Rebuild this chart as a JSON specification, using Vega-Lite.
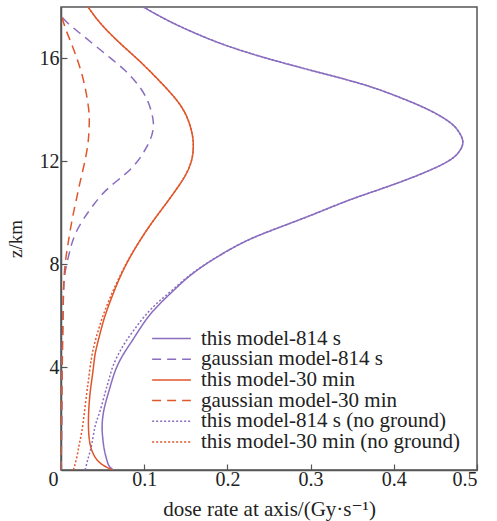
{
  "$schema": "https://vega.github.io/schema/vega-lite/v6.json",
  "width": 416,
  "height": 463,
  "autosize": {"type": "none"},
  "padding": {"left": 61, "top": 7, "right": 20, "bottom": 51},
  "background": "white",
  "config": {
    "font": "Liberation Serif, Times New Roman, DejaVu Serif, serif",
    "view": {"stroke": "#555555", "strokeWidth": 1.5},
    "axis": {"grid": false, "domainColor": "#555555", "domainWidth": 1.5, "tickColor": "#555555", "tickWidth": 1.2, "labelColor": "#222222", "titleColor": "#222222", "labelFont": "Liberation Serif, Times New Roman, DejaVu Serif, serif", "titleFont": "Liberation Serif, Times New Roman, DejaVu Serif, serif", "titleFontWeight": "normal"},
    "legend": {"labelFont": "Liberation Serif, Times New Roman, DejaVu Serif, serif"}
  },
  "datasets": {
    "curves": [
      {"s": "this model-814 s", "z": 0.0, "x": 0.063},
      {"s": "this model-814 s", "z": 0.15, "x": 0.058},
      {"s": "this model-814 s", "z": 0.4, "x": 0.055},
      {"s": "this model-814 s", "z": 0.8, "x": 0.052},
      {"s": "this model-814 s", "z": 1.3, "x": 0.05},
      {"s": "this model-814 s", "z": 1.8, "x": 0.0495},
      {"s": "this model-814 s", "z": 2.4, "x": 0.052},
      {"s": "this model-814 s", "z": 3.0, "x": 0.057},
      {"s": "this model-814 s", "z": 3.5, "x": 0.0615},
      {"s": "this model-814 s", "z": 4.0, "x": 0.067},
      {"s": "this model-814 s", "z": 4.5, "x": 0.075},
      {"s": "this model-814 s", "z": 5.0, "x": 0.085},
      {"s": "this model-814 s", "z": 5.5, "x": 0.095},
      {"s": "this model-814 s", "z": 6.0, "x": 0.106},
      {"s": "this model-814 s", "z": 6.5, "x": 0.12},
      {"s": "this model-814 s", "z": 7.0, "x": 0.136},
      {"s": "this model-814 s", "z": 7.5, "x": 0.153},
      {"s": "this model-814 s", "z": 8.0, "x": 0.174},
      {"s": "this model-814 s", "z": 8.5, "x": 0.199},
      {"s": "this model-814 s", "z": 9.0, "x": 0.229},
      {"s": "this model-814 s", "z": 9.5, "x": 0.268},
      {"s": "this model-814 s", "z": 10.0, "x": 0.308},
      {"s": "this model-814 s", "z": 10.5, "x": 0.347},
      {"s": "this model-814 s", "z": 11.0, "x": 0.391},
      {"s": "this model-814 s", "z": 11.5, "x": 0.432},
      {"s": "this model-814 s", "z": 12.0, "x": 0.465},
      {"s": "this model-814 s", "z": 12.4, "x": 0.479},
      {"s": "this model-814 s", "z": 12.75, "x": 0.483},
      {"s": "this model-814 s", "z": 13.1, "x": 0.479},
      {"s": "this model-814 s", "z": 13.5, "x": 0.468},
      {"s": "this model-814 s", "z": 14.0, "x": 0.442},
      {"s": "this model-814 s", "z": 14.5, "x": 0.406},
      {"s": "this model-814 s", "z": 15.0, "x": 0.362},
      {"s": "this model-814 s", "z": 15.5, "x": 0.305},
      {"s": "this model-814 s", "z": 16.0, "x": 0.248},
      {"s": "this model-814 s", "z": 16.5, "x": 0.199},
      {"s": "this model-814 s", "z": 17.0, "x": 0.16},
      {"s": "this model-814 s", "z": 17.5, "x": 0.127},
      {"s": "this model-814 s", "z": 18.0, "x": 0.099},

      {"s": "gaussian model-814 s", "z": 0.0, "x": 0.0},
      {"s": "gaussian model-814 s", "z": 2.0, "x": 0.001},
      {"s": "gaussian model-814 s", "z": 4.0, "x": 0.001},
      {"s": "gaussian model-814 s", "z": 5.5, "x": 0.002},
      {"s": "gaussian model-814 s", "z": 6.9, "x": 0.003},
      {"s": "gaussian model-814 s", "z": 7.7, "x": 0.005},
      {"s": "gaussian model-814 s", "z": 8.3, "x": 0.009},
      {"s": "gaussian model-814 s", "z": 8.8, "x": 0.013},
      {"s": "gaussian model-814 s", "z": 9.3, "x": 0.019},
      {"s": "gaussian model-814 s", "z": 9.8, "x": 0.028},
      {"s": "gaussian model-814 s", "z": 10.3, "x": 0.039},
      {"s": "gaussian model-814 s", "z": 10.9, "x": 0.055},
      {"s": "gaussian model-814 s", "z": 11.5, "x": 0.077},
      {"s": "gaussian model-814 s", "z": 12.0, "x": 0.092},
      {"s": "gaussian model-814 s", "z": 12.5, "x": 0.102},
      {"s": "gaussian model-814 s", "z": 13.0, "x": 0.109},
      {"s": "gaussian model-814 s", "z": 13.5, "x": 0.111},
      {"s": "gaussian model-814 s", "z": 14.0, "x": 0.108},
      {"s": "gaussian model-814 s", "z": 14.5, "x": 0.102},
      {"s": "gaussian model-814 s", "z": 15.0, "x": 0.092},
      {"s": "gaussian model-814 s", "z": 15.5, "x": 0.078},
      {"s": "gaussian model-814 s", "z": 16.0, "x": 0.06},
      {"s": "gaussian model-814 s", "z": 16.5, "x": 0.041},
      {"s": "gaussian model-814 s", "z": 17.0, "x": 0.022},
      {"s": "gaussian model-814 s", "z": 17.35, "x": 0.009},
      {"s": "gaussian model-814 s", "z": 17.65, "x": 0.0},

      {"s": "this model-30 min", "z": 0.0, "x": 0.062},
      {"s": "this model-30 min", "z": 0.2, "x": 0.05},
      {"s": "this model-30 min", "z": 0.5, "x": 0.041},
      {"s": "this model-30 min", "z": 1.0, "x": 0.035},
      {"s": "this model-30 min", "z": 1.7, "x": 0.033},
      {"s": "this model-30 min", "z": 2.4, "x": 0.0335},
      {"s": "this model-30 min", "z": 3.0, "x": 0.035},
      {"s": "this model-30 min", "z": 3.5, "x": 0.037},
      {"s": "this model-30 min", "z": 4.0, "x": 0.039},
      {"s": "this model-30 min", "z": 4.5, "x": 0.041},
      {"s": "this model-30 min", "z": 5.0, "x": 0.0445},
      {"s": "this model-30 min", "z": 5.5, "x": 0.0485},
      {"s": "this model-30 min", "z": 6.0, "x": 0.053},
      {"s": "this model-30 min", "z": 6.5, "x": 0.0585},
      {"s": "this model-30 min", "z": 7.0, "x": 0.0645},
      {"s": "this model-30 min", "z": 7.5, "x": 0.071},
      {"s": "this model-30 min", "z": 8.0, "x": 0.0785},
      {"s": "this model-30 min", "z": 8.5, "x": 0.087},
      {"s": "this model-30 min", "z": 9.0, "x": 0.0965},
      {"s": "this model-30 min", "z": 9.5, "x": 0.1068},
      {"s": "this model-30 min", "z": 10.0, "x": 0.118},
      {"s": "this model-30 min", "z": 10.5, "x": 0.1295},
      {"s": "this model-30 min", "z": 11.0, "x": 0.1405},
      {"s": "this model-30 min", "z": 11.4, "x": 0.1485},
      {"s": "this model-30 min", "z": 11.8, "x": 0.1545},
      {"s": "this model-30 min", "z": 12.2, "x": 0.158},
      {"s": "this model-30 min", "z": 12.6, "x": 0.159},
      {"s": "this model-30 min", "z": 13.0, "x": 0.158},
      {"s": "this model-30 min", "z": 13.5, "x": 0.154},
      {"s": "this model-30 min", "z": 14.0, "x": 0.147},
      {"s": "this model-30 min", "z": 14.5, "x": 0.136},
      {"s": "this model-30 min", "z": 15.0, "x": 0.122},
      {"s": "this model-30 min", "z": 15.5, "x": 0.107},
      {"s": "this model-30 min", "z": 16.0, "x": 0.091},
      {"s": "this model-30 min", "z": 16.5, "x": 0.074},
      {"s": "this model-30 min", "z": 17.0, "x": 0.058},
      {"s": "this model-30 min", "z": 17.5, "x": 0.044},
      {"s": "this model-30 min", "z": 18.0, "x": 0.0325},

      {"s": "gaussian model-30 min", "z": 0.0, "x": 0.0},
      {"s": "gaussian model-30 min", "z": 3.0, "x": 0.001},
      {"s": "gaussian model-30 min", "z": 5.0, "x": 0.002},
      {"s": "gaussian model-30 min", "z": 6.9, "x": 0.003},
      {"s": "gaussian model-30 min", "z": 8.0, "x": 0.005},
      {"s": "gaussian model-30 min", "z": 8.7, "x": 0.008},
      {"s": "gaussian model-30 min", "z": 9.3, "x": 0.011},
      {"s": "gaussian model-30 min", "z": 10.0, "x": 0.015},
      {"s": "gaussian model-30 min", "z": 10.6, "x": 0.019},
      {"s": "gaussian model-30 min", "z": 11.2, "x": 0.023},
      {"s": "gaussian model-30 min", "z": 11.9, "x": 0.028},
      {"s": "gaussian model-30 min", "z": 12.6, "x": 0.032},
      {"s": "gaussian model-30 min", "z": 13.1, "x": 0.0335},
      {"s": "gaussian model-30 min", "z": 13.6, "x": 0.034},
      {"s": "gaussian model-30 min", "z": 14.1, "x": 0.033},
      {"s": "gaussian model-30 min", "z": 14.7, "x": 0.03},
      {"s": "gaussian model-30 min", "z": 15.4, "x": 0.025},
      {"s": "gaussian model-30 min", "z": 16.1, "x": 0.018},
      {"s": "gaussian model-30 min", "z": 16.7, "x": 0.011},
      {"s": "gaussian model-30 min", "z": 17.2, "x": 0.005},
      {"s": "gaussian model-30 min", "z": 17.75, "x": 0.0},

      {"s": "this model-814 s (no ground)", "z": 0.0, "x": 0.029},
      {"s": "this model-814 s (no ground)", "z": 0.5, "x": 0.033},
      {"s": "this model-814 s (no ground)", "z": 1.0, "x": 0.037},
      {"s": "this model-814 s (no ground)", "z": 1.7, "x": 0.041},
      {"s": "this model-814 s (no ground)", "z": 2.3, "x": 0.047},
      {"s": "this model-814 s (no ground)", "z": 3.0, "x": 0.053},
      {"s": "this model-814 s (no ground)", "z": 3.5, "x": 0.0575},
      {"s": "this model-814 s (no ground)", "z": 4.0, "x": 0.062},
      {"s": "this model-814 s (no ground)", "z": 4.5, "x": 0.069},
      {"s": "this model-814 s (no ground)", "z": 5.0, "x": 0.078},
      {"s": "this model-814 s (no ground)", "z": 5.5, "x": 0.089},
      {"s": "this model-814 s (no ground)", "z": 6.0, "x": 0.101},
      {"s": "this model-814 s (no ground)", "z": 6.5, "x": 0.116},
      {"s": "this model-814 s (no ground)", "z": 7.0, "x": 0.134},
      {"s": "this model-814 s (no ground)", "z": 7.5, "x": 0.152},
      {"s": "this model-814 s (no ground)", "z": 8.0, "x": 0.1735},
      {"s": "this model-814 s (no ground)", "z": 8.5, "x": 0.199},
      {"s": "this model-814 s (no ground)", "z": 9.0, "x": 0.229},
      {"s": "this model-814 s (no ground)", "z": 9.5, "x": 0.268},
      {"s": "this model-814 s (no ground)", "z": 10.0, "x": 0.308},
      {"s": "this model-814 s (no ground)", "z": 10.5, "x": 0.347},
      {"s": "this model-814 s (no ground)", "z": 11.0, "x": 0.391},
      {"s": "this model-814 s (no ground)", "z": 11.5, "x": 0.432},
      {"s": "this model-814 s (no ground)", "z": 12.0, "x": 0.465},
      {"s": "this model-814 s (no ground)", "z": 12.4, "x": 0.479},
      {"s": "this model-814 s (no ground)", "z": 12.75, "x": 0.483},
      {"s": "this model-814 s (no ground)", "z": 13.1, "x": 0.479},
      {"s": "this model-814 s (no ground)", "z": 13.5, "x": 0.468},
      {"s": "this model-814 s (no ground)", "z": 14.0, "x": 0.442},
      {"s": "this model-814 s (no ground)", "z": 14.5, "x": 0.406},
      {"s": "this model-814 s (no ground)", "z": 15.0, "x": 0.362},
      {"s": "this model-814 s (no ground)", "z": 15.5, "x": 0.305},
      {"s": "this model-814 s (no ground)", "z": 16.0, "x": 0.248},
      {"s": "this model-814 s (no ground)", "z": 16.5, "x": 0.199},
      {"s": "this model-814 s (no ground)", "z": 17.0, "x": 0.16},
      {"s": "this model-814 s (no ground)", "z": 17.5, "x": 0.127},
      {"s": "this model-814 s (no ground)", "z": 18.0, "x": 0.099},

      {"s": "this model-30 min (no ground)", "z": 0.0, "x": 0.015},
      {"s": "this model-30 min (no ground)", "z": 0.5, "x": 0.019},
      {"s": "this model-30 min (no ground)", "z": 1.0, "x": 0.022},
      {"s": "this model-30 min (no ground)", "z": 1.5, "x": 0.025},
      {"s": "this model-30 min (no ground)", "z": 2.2, "x": 0.028},
      {"s": "this model-30 min (no ground)", "z": 3.0, "x": 0.031},
      {"s": "this model-30 min (no ground)", "z": 3.5, "x": 0.033},
      {"s": "this model-30 min (no ground)", "z": 4.0, "x": 0.035},
      {"s": "this model-30 min (no ground)", "z": 4.5, "x": 0.0375},
      {"s": "this model-30 min (no ground)", "z": 5.0, "x": 0.041},
      {"s": "this model-30 min (no ground)", "z": 5.5, "x": 0.0455},
      {"s": "this model-30 min (no ground)", "z": 6.0, "x": 0.0505},
      {"s": "this model-30 min (no ground)", "z": 6.5, "x": 0.0565},
      {"s": "this model-30 min (no ground)", "z": 7.0, "x": 0.063},
      {"s": "this model-30 min (no ground)", "z": 7.5, "x": 0.0703},
      {"s": "this model-30 min (no ground)", "z": 8.0, "x": 0.078},
      {"s": "this model-30 min (no ground)", "z": 8.5, "x": 0.0868},
      {"s": "this model-30 min (no ground)", "z": 9.0, "x": 0.0965},
      {"s": "this model-30 min (no ground)", "z": 9.5, "x": 0.1068},
      {"s": "this model-30 min (no ground)", "z": 10.0, "x": 0.118},
      {"s": "this model-30 min (no ground)", "z": 10.5, "x": 0.1295},
      {"s": "this model-30 min (no ground)", "z": 11.0, "x": 0.1405},
      {"s": "this model-30 min (no ground)", "z": 11.4, "x": 0.1485},
      {"s": "this model-30 min (no ground)", "z": 11.8, "x": 0.1545},
      {"s": "this model-30 min (no ground)", "z": 12.2, "x": 0.158},
      {"s": "this model-30 min (no ground)", "z": 12.6, "x": 0.159},
      {"s": "this model-30 min (no ground)", "z": 13.0, "x": 0.158},
      {"s": "this model-30 min (no ground)", "z": 13.5, "x": 0.154},
      {"s": "this model-30 min (no ground)", "z": 14.0, "x": 0.147},
      {"s": "this model-30 min (no ground)", "z": 14.5, "x": 0.136},
      {"s": "this model-30 min (no ground)", "z": 15.0, "x": 0.122},
      {"s": "this model-30 min (no ground)", "z": 15.5, "x": 0.107},
      {"s": "this model-30 min (no ground)", "z": 16.0, "x": 0.091},
      {"s": "this model-30 min (no ground)", "z": 16.5, "x": 0.074},
      {"s": "this model-30 min (no ground)", "z": 17.0, "x": 0.058},
      {"s": "this model-30 min (no ground)", "z": 17.5, "x": 0.044},
      {"s": "this model-30 min (no ground)", "z": 18.0, "x": 0.0325}
    ]
  },
  "data": {"name": "curves"},
  "mark": {"type": "line", "strokeWidth": 1.5, "interpolate": "natural", "clip": true},
  "encoding": {
    "x": {
      "field": "x", "type": "quantitative",
      "scale": {"domain": [0, 0.5], "nice": false, "zero": false},
      "axis": {
        "values": [0, 0.1, 0.2, 0.3, 0.4, 0.5],
        "labelExpr": "datum.value === 0 ? '0' : format(datum.value, '.1f')",
        "labelOffset": {"condition": {"test": "datum.value === 0", "value": -13}, "value": 0},
        "tickSize": -6,
        "labelPadding": 5,
        "labelFontSize": 20,
        "title": "dose rate at axis/(Gy·s⁻¹)",
        "titleFontSize": 21,
        "titlePadding": 9
      }
    },
    "y": {
      "field": "z", "type": "quantitative",
      "scale": {"domain": [0, 18], "nice": false, "zero": false},
      "axis": {
        "values": [4, 8, 12, 16],
        "tickSize": -6,
        "labelPadding": 8,
        "labelFontSize": 20,
        "title": "z/km",
        "titleFontSize": 19,
        "titlePadding": 14
      }
    },
    "color": {
      "field": "s", "type": "nominal",
      "scale": {
        "domain": ["this model-814 s", "gaussian model-814 s", "this model-30 min", "gaussian model-30 min", "this model-814 s (no ground)", "this model-30 min (no ground)"],
        "range": ["#8a6dbf", "#8a6dbf", "#e0562a", "#e0562a", "#8a6dbf", "#e0562a"]
      },
      "legend": {
        "title": null,
        "orient": "none",
        "legendX": 90,
        "legendY": 323,
        "padding": 0,
        "symbolType": "stroke",
        "symbolSize": 1500,
        "symbolStrokeWidth": 1.5,
        "labelFontSize": 21,
        "labelColor": "#222222",
        "labelOffset": 9,
        "clipHeight": 17,
        "rowPadding": -1.3,
        "labelLimit": 400
      }
    },
    "strokeDash": {
      "field": "s", "type": "nominal",
      "scale": {
        "domain": ["this model-814 s", "gaussian model-814 s", "this model-30 min", "gaussian model-30 min", "this model-814 s (no ground)", "this model-30 min (no ground)"],
        "range": [[1, 0], [9, 6], [1, 0], [9, 6], [2, 2], [2, 2]]
      }
    },
    "order": {"field": "z", "type": "quantitative"}
  }
}
